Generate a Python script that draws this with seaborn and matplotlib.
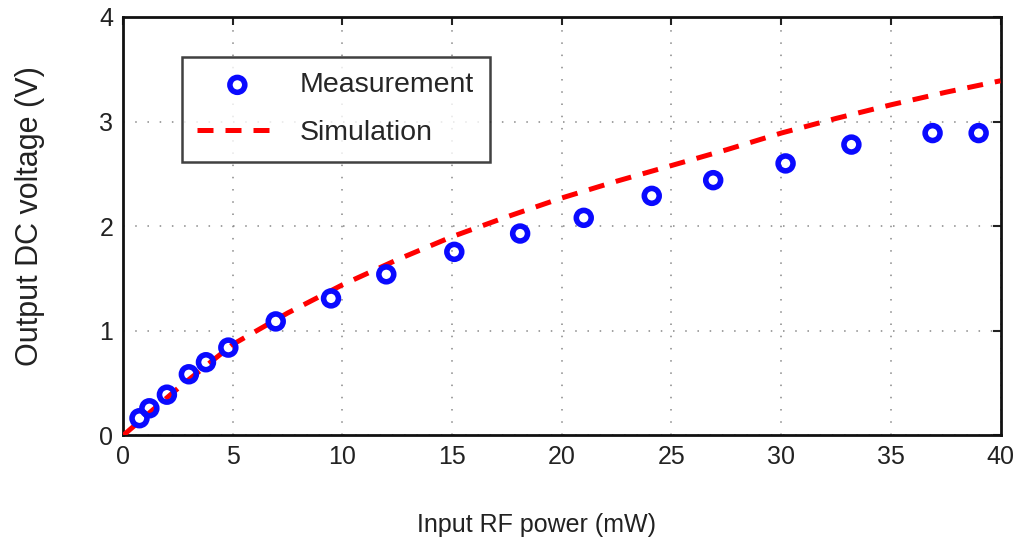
import numpy as np
import pandas as pd
import matplotlib
matplotlib.use("Agg")
import matplotlib.pyplot as plt
import seaborn as sns

# Dados
meas_power = [0.75, 1.2, 2.0, 3.0, 3.78, 4.8, 6.96, 9.48, 12.0, 15.1, 18.1, 21.0,
              24.1, 26.9, 30.2, 33.2, 36.9, 39.0]
meas_volt = [0.165, 0.26, 0.39, 0.585, 0.70, 0.84, 1.09, 1.31, 1.54, 1.755, 1.93, 2.08,
             2.29, 2.44, 2.60, 2.78, 2.89, 2.89]

sim_power = [0, 2.5, 5, 7.5, 10, 12.5, 15, 17.5, 20, 22.5, 25, 27.5, 30, 32.5, 35, 37.5, 40]
sim_volt = [0, 0.45, 0.87, 1.17, 1.44, 1.68, 1.90, 2.09, 2.27, 2.43, 2.58, 2.73, 2.89,
            3.03, 3.16, 3.28, 3.39]

x_ticks = [0, 5, 10, 15, 20, 25, 30, 35, 40]
y_ticks = [0, 1, 2, 3, 4]

df_meas = pd.DataFrame({'power': meas_power, 'volt': meas_volt})
df_sim = pd.DataFrame({'power': sim_power, 'volt': sim_volt})

sns.set_style("white")
plt.rcParams['font.family'] = ['Liberation Sans', 'DejaVu Sans']

fig = plt.figure(figsize=(10.21, 5.46), dpi=100)
ax = fig.add_axes([0.1205, 0.2024, 0.8595, 0.7666])

# Simulacao
sns.lineplot(x='power', y='volt', data=df_sim, ax=ax, color='#ff0000', lw=3.6,
             label='Simulation', zorder=3)
ax.lines[0].set_dashes((3.2, 2.4))
ax.lines[0].set_dash_capstyle('butt')

# Medicao
sns.scatterplot(x='power', y='volt', data=df_meas, ax=ax, marker='o', s=115,
                facecolor='none', edgecolor='#0a0aff', linewidth=4.0,
                label='Measurement', zorder=4)

ax.set_xlim(0, 40)
ax.set_ylim(0, 4)
ax.set_xticks(x_ticks)
ax.set_yticks(y_ticks)
ax.tick_params(direction='in', length=6, width=1.5, top=True, right=True,
               labelsize=18, colors='#222222', pad=7)
ax.grid(True, linestyle=(0, (1, 7)), color='#888888', linewidth=1.1)
for sp in ax.spines.values():
    sp.set_color('#111111')
    sp.set_linewidth(2)

ax.set_xlabel('Input RF power (mW)', fontsize=18, color='#222222')
ax.set_ylabel('Output DC voltage (V)', fontsize=22, color='#222222')
ax.xaxis.set_label_coords(0.4715, -0.185)
ax.yaxis.set_label_coords(-0.089, 0.5245)

h, l = ax.get_legend_handles_labels()
order = [l.index('Measurement'), l.index('Simulation')]
leg = ax.legend([h[i] for i in order], [l[i] for i in order], loc='upper left',
                bbox_to_anchor=(0.067, 0.905), fontsize=20.5, frameon=True,
                fancybox=False, edgecolor='#111111', handlelength=2.8,
                borderpad=0.55, labelspacing=0.77, handletextpad=0.8,
                borderaxespad=0)
leg.get_frame().set_linewidth(1.8)
leg.set_zorder(5)

fig.savefig('out.png', dpi=100, facecolor='white')
